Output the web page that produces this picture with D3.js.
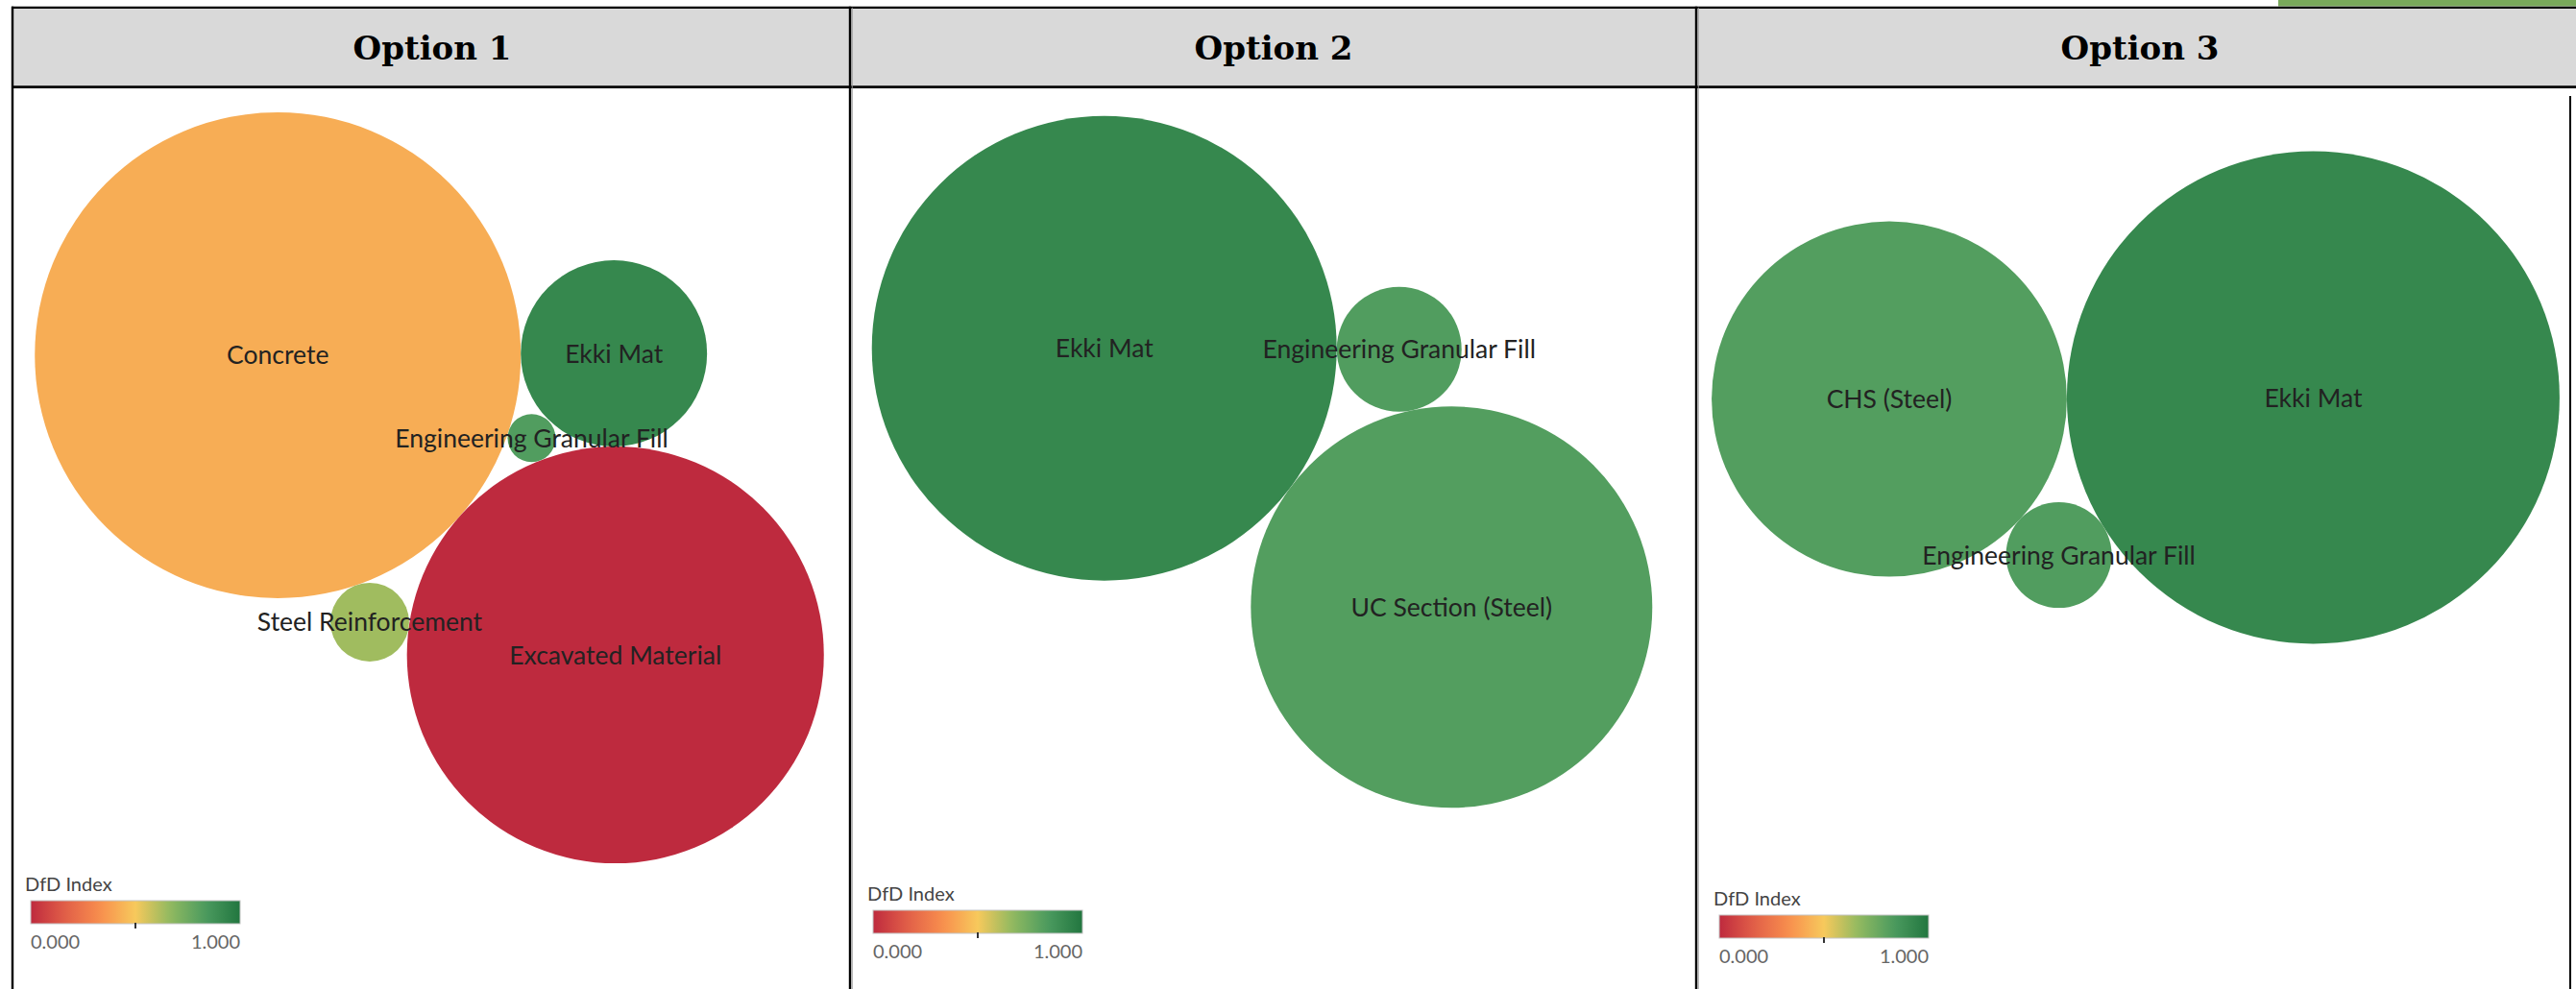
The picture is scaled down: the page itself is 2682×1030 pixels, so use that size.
<!DOCTYPE html>
<html>
<head>
<meta charset="utf-8">
<script src="https://cdn.jsdelivr.net/npm/d3@7"></script>
<style>
  html, body { margin: 0; padding: 0; background: #fff; overflow: hidden; }
  svg { display: block; }
</style>
</head>
<body>
<svg id="chart" width="2682" height="1030"></svg>
<script>
// ---- Data -------------------------------------------------------------
const optionTitles = ["Option 1", "Option 2", "Option 3"];

// Option 1: materials, bubble size (quantity) and DfD Index
const materials1 = ["Concrete", "Excavated Material", "Ekki Mat", "Steel Reinforcement", "Engineering Granular Fill"];
const quantity1  = [640, 471, 94, 16.8, 6.25];
const dfd1       = [0.42, 0.0, 0.92, 0.64, 0.82];

// Option 2
const materials2 = ["Ekki Mat", "UC Section (Steel)", "Engineering Granular Fill"];
const quantity2  = [586, 437, 42.3];
const dfd2       = [0.92, 0.815, 0.82];

// Option 3
const materials3 = ["Ekki Mat", "CHS (Steel)", "Engineering Granular Fill"];
const quantity3  = [658, 342, 30.3];
const dfd3       = [0.92, 0.815, 0.82];

// Colour legend
const legendTitle  = "DfD Index";
const legendDomain = [0, 1];
const legendLabels = ["0.000", "1.000"];
const legendMarker = 0.5;

// Red-Green-Gold diverging palette
const palette = ["#be2a3e", "#e25f48", "#f88f4d", "#f7c95c", "#90b960", "#4b9b5f", "#22763f"];

// ---- Layout settings per panel ------------------------------------------
const panels = [
  { materials: materials1, quantity: quantity1, dfd: dfd1, titleX: 450,
    maxR: 253,   angle: 41.6,  cx: 447,    cy: 508, legend: { x: 32,   y: 938 } },
  { materials: materials2, quantity: quantity2, dfd: dfd2, titleX: 1326,
    maxR: 242,   angle: 36.7,  cx: 1314,   cy: 481, legend: { x: 909,  y: 948 } },
  { materials: materials3, quantity: quantity3, dfd: dfd3, titleX: 2228,
    maxR: 256.5, angle: 179.8, cx: 2223.5, cy: 414, legend: { x: 1790, y: 953 } }
];

const W = 2682, H = 1030;
const headerTop = 7.8, headerBottom = 90.7;
const svg = d3.select("#chart");

const color = d3.scaleLinear()
  .domain(palette.map((_, i) => i / (palette.length - 1)))
  .range(palette)
  .interpolate(d3.interpolateRgb)
  .clamp(true);

// Greedy bubble packing: largest first; each next bubble is set tangent to
// two placed bubbles, at the free spot nearest the area-weighted centre.
function packBubbles(nodes) {
  const placed = [];
  const eps = 1e-6;
  nodes.forEach((n, i) => {
    if (i === 0) { n.x = 0; n.y = 0; }
    else if (i === 1) { n.x = placed[0].r + n.r; n.y = 0; }
    else {
      const w = d3.sum(placed, p => p.r * p.r);
      const gx = d3.sum(placed, p => p.r * p.r * p.x) / w;
      const gy = d3.sum(placed, p => p.r * p.r * p.y) / w;
      let best = null;
      for (let a = 0; a < placed.length; a++) {
        for (let b = a + 1; b < placed.length; b++) {
          const A = placed[a], B = placed[b];
          const dx = B.x - A.x, dy = B.y - A.y, d = Math.hypot(dx, dy);
          const ra = A.r + n.r, rb = B.r + n.r;
          if (d > ra + rb || d < Math.abs(ra - rb)) continue;
          const along = (ra * ra - rb * rb + d * d) / (2 * d);
          const h = Math.sqrt(Math.max(0, ra * ra - along * along));
          const ux = dx / d, uy = dy / d;
          for (const s of [-1, 1]) {
            const x = A.x + along * ux - s * h * uy;
            const y = A.y + along * uy + s * h * ux;
            if (placed.some(p => Math.hypot(p.x - x, p.y - y) < p.r + n.r - eps)) continue;
            const dist = Math.hypot(x - gx, y - gy);
            if (!best || dist < best.dist - eps || (Math.abs(dist - best.dist) <= eps && y < best.y)) {
              best = { x, y, dist };
            }
          }
        }
      }
      n.x = best.x; n.y = best.y;
    }
    placed.push(n);
  });
  return placed;
}

// ---- Header band ---------------------------------------------------------
svg.append("rect").attr("x", 2372).attr("y", 0).attr("width", W - 2372).attr("height", 6.5)
  .attr("fill", "#79a95b");
svg.append("rect").attr("x", 13).attr("y", headerTop).attr("width", W - 13).attr("height", headerBottom - headerTop)
  .attr("fill", "#d9d9d9");

// ---- Bubble panels -------------------------------------------------------
panels.forEach((p, pi) => {
  const r = d3.scaleSqrt().domain([0, d3.max(p.quantity)]).range([0, p.maxR]);
  const nodes = p.materials.map((m, i) => ({ name: m, q: p.quantity[i], dfd: p.dfd[i], r: r(p.quantity[i]) }))
    .sort((a, b) => b.r - a.r);
  packBubbles(nodes);

  // orient the pack, then centre its bounding box on the panel anchor
  const t = p.angle * Math.PI / 180, c = Math.cos(t), s = Math.sin(t);
  nodes.forEach(n => { const x = n.x, y = n.y; n.x = x * c - y * s; n.y = x * s + y * c; });
  const bx0 = d3.min(nodes, n => n.x - n.r), bx1 = d3.max(nodes, n => n.x + n.r);
  const by0 = d3.min(nodes, n => n.y - n.r), by1 = d3.max(nodes, n => n.y + n.r);
  const sx = d3.scaleLinear().domain([bx0, bx1]).range([p.cx - (bx1 - bx0) / 2, p.cx + (bx1 - bx0) / 2]);
  const sy = d3.scaleLinear().domain([by0, by1]).range([p.cy - (by1 - by0) / 2, p.cy + (by1 - by0) / 2]);

  const g = svg.append("g").attr("class", "panel");
  g.selectAll("circle").data(nodes).join("circle")
    .attr("cx", d => sx(d.x)).attr("cy", d => sy(d.y)).attr("r", d => d.r)
    .attr("fill", d => color(d.dfd));
  g.selectAll("text.lbl").data(nodes).join("text").attr("class", "lbl")
    .attr("x", d => sx(d.x)).attr("y", d => sy(d.y)).attr("dy", "0.36em")
    .attr("text-anchor", "middle")
    .style("font-family", "Lato, 'Open Sans', sans-serif").style("font-size", "26.5px")
    .attr("fill", "#222")
    .text(d => d.name);

  // Title
  svg.append("text").attr("x", p.titleX).attr("y", 62)
    .attr("text-anchor", "middle")
    .style("font-family", "'DejaVu Serif', serif").style("font-weight", "bold").style("font-size", "34px")
    .attr("fill", "#000").text(optionTitles[pi]);

  // Legend
  const L = p.legend, lw = 218, lh = 24;
  const gradId = "grad" + pi;
  const grad = svg.append("defs").append("linearGradient").attr("id", gradId)
    .attr("x1", "0%").attr("x2", "100%").attr("y1", "0%").attr("y2", "0%");
  grad.selectAll("stop").data(d3.range(0, 1.0001, 0.05)).join("stop")
    .attr("offset", d => (d * 100) + "%").attr("stop-color", d => color(d));
  const lx = d3.scaleLinear().domain(legendDomain).range([L.x, L.x + lw]);
  const lg = svg.append("g").attr("class", "legend");
  lg.append("text").attr("x", L.x - 6).attr("y", L.y - 10)
    .style("font-family", "Lato, sans-serif").style("font-size", "20px")
    .attr("fill", "#444").text(legendTitle);
  lg.append("rect").attr("x", L.x).attr("y", L.y).attr("width", lw).attr("height", lh)
    .attr("fill", `url(#${gradId})`).attr("stroke", "#c4c4c4").attr("stroke-width", 1);
  lg.append("line").attr("x1", lx(legendMarker)).attr("x2", lx(legendMarker))
    .attr("y1", L.y + lh - 1).attr("y2", L.y + lh + 5).attr("stroke", "#333").attr("stroke-width", 2);
  lg.selectAll("text.tick").data(legendDomain).join("text").attr("class", "tick")
    .attr("x", d => lx(d)).attr("y", L.y + lh + 26)
    .attr("text-anchor", (d, i) => i === 0 ? "start" : "end")
    .style("font-family", "Lato, sans-serif").style("font-size", "20px")
    .attr("fill", "#666").text((d, i) => legendLabels[i]);
});

// ---- Table rules ---------------------------------------------------------
const rule = (x1, y1, x2, y2, w, c) => svg.append("line")
  .attr("x1", x1).attr("y1", y1).attr("x2", x2).attr("y2", y2)
  .attr("stroke", c || "#000").attr("stroke-width", w);
rule(12, headerTop, W, headerTop, 2.2);
rule(12, headerBottom, W, headerBottom, 2.8);
rule(13, headerTop - 1, 13, H, 2.4);
[885, 1766].forEach(x => {
  rule(x + 2.2, headerTop, x + 2.2, H, 1, "#9a9a9a");
  rule(x, headerTop - 1, x, H, 2.4);
});
rule(2676, 100, 2676, H, 2);
</script>
</body>
</html>
